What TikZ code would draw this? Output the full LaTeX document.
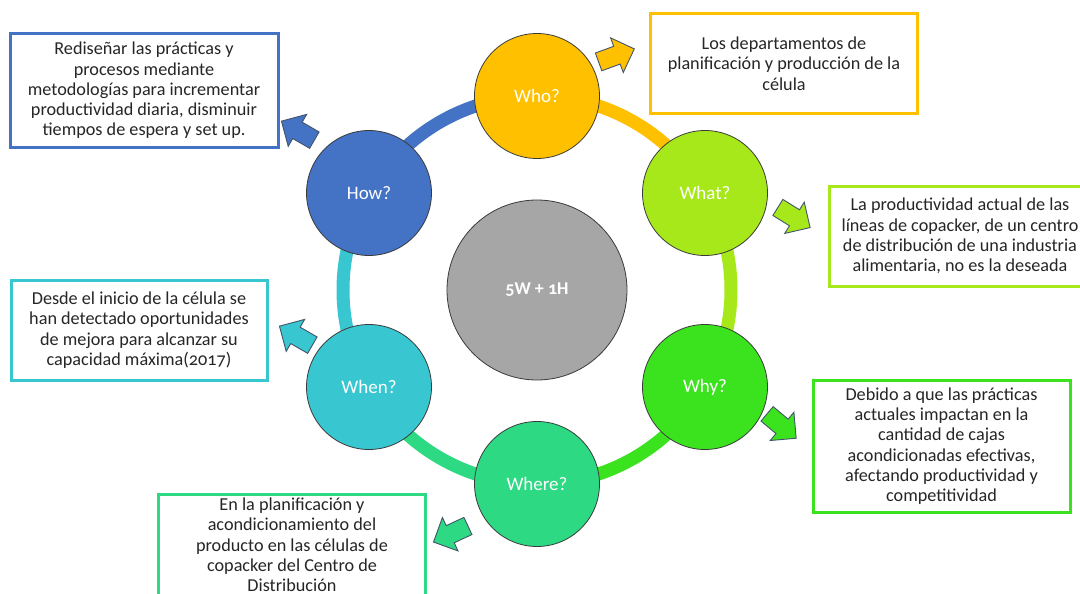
\documentclass[tikz,border=0pt]{standalone}
\usepackage{fontspec}
\setmainfont{Carlito}[Numbers=OldStyle]
\usetikzlibrary{shapes.arrows}
\definecolor{cgold}{HTML}{FFC000}
\definecolor{clime}{HTML}{A6E81A}
\definecolor{cgreen}{HTML}{3BE31E}
\definecolor{cmint}{HTML}{2DD982}
\definecolor{ccyan}{HTML}{38C6D0}
\definecolor{cblue}{HTML}{4472C4}
\definecolor{cgray}{HTML}{A6A6A6}
\definecolor{ctext}{HTML}{262626}
\definecolor{cedge}{HTML}{3A3A3A}
\definecolor{carrow}{HTML}{44546A}
\tikzset{
  ring/.style={line width=13pt},
  stage/.style={circle, draw=cedge, line width=0.8pt, minimum size=125pt, inner sep=0pt,
    text=white, font=\fontsize{19}{22}\selectfont},
  hub/.style={circle, draw=cedge, line width=0.8pt, fill=cgray, minimum size=180pt, inner sep=0pt,
    text=white, font=\fontsize{18}{22}\selectfont\bfseries},
  infobox/.style={rectangle, line width=3pt, fill=white, align=center, inner sep=0pt,
    text=ctext, font=\fontsize{18.2}{20.3}\selectfont},
  blockarrow/.style={single arrow, draw=carrow, line width=0.9pt, minimum height=38pt,
    inner xsep=0pt, inner ysep=9pt, single arrow head extend=9pt},
}
\begin{document}
\begin{tikzpicture}[x=1pt,y=-1pt]
\useasboundingbox (0,0) rectangle (1080,594);
\clip (0,0) rectangle (1080,594);
\fill[white] (0,0) rectangle (1080,594);

% ring
\coordinate (c) at (537,290);
\draw[ring, cgold]  (c) ++(-90:194) arc[start angle=-90, end angle=-30, radius=194];
\draw[ring, clime]  (c) ++(-30:194) arc[start angle=-30, end angle=30, radius=194];
\draw[ring, cgreen] (c) ++(30:194)  arc[start angle=30, end angle=90, radius=194];
\draw[ring, cmint]  (c) ++(90:194)  arc[start angle=90, end angle=150, radius=194];
\draw[ring, ccyan]  (c) ++(150:194) arc[start angle=150, end angle=210, radius=194];
\draw[ring, cblue]  (c) ++(210:194) arc[start angle=210, end angle=270, radius=194];

% circles
\node[hub] (hub) at (c) {5W + 1H};
\node[stage, fill=cgold]  (who)   at (537,96)  {Who?};
\node[stage, fill=clime]  (what)  at (705,193) {What?};
\node[stage, fill=cgreen] (why)   at (705,387) {Why?};
\node[stage, fill=cmint]  (where) at (537,484) {Where?};
\node[stage, fill=ccyan]  (when)  at (369,387) {When?};
\node[stage, fill=cblue]  (how)   at (369,193) {How?};

% arrows
\node[blockarrow, fill=cgold,  rotate=20]  (a1) at (612,57)  {};
\node[blockarrow, fill=clime,  rotate=-32] (a2) at (790,215) {};
\node[blockarrow, fill=cgreen, rotate=-40] (a3) at (778,423) {};
\node[blockarrow, fill=cmint,  rotate=205] (a4) at (455,532) {};
\node[blockarrow, fill=ccyan,  rotate=150] (a5) at (300,338) {};
\node[blockarrow, fill=cblue,  rotate=150] (a6) at (302,133) {};

% boxes
\node[infobox, draw=cgold, minimum width=267pt, minimum height=100pt] (bwho) at (784,63.5)
  {Los departamentos de\\planificación y producción de la\\célula};
\node[infobox, draw=clime, minimum width=262pt, minimum height=100pt] (bwhat) at (960,236)
  {La productividad actual de las\\líneas de copacker, de un centro\\de distribución de una industria\\alimentaria, no es la deseada};
\node[infobox, draw=cgreen, minimum width=257pt, minimum height=132pt] (bwhy) at (941.5,446)
  {Debido a que las prácticas\\actuales impactan en la\\cantidad de cajas\\acondicionadas efectivas,\\afectando productividad y\\competitividad};
\node[infobox, draw=cmint, minimum width=267pt, minimum height=102pt] (bwhere) at (292,545)
  {En la planificación y\\acondicionamiento del\\producto en las células de\\copacker del Centro de\\Distribución};
\node[infobox, draw=ccyan, minimum width=256pt, minimum height=100pt] (bwhen) at (139,330)
  {Desde el inicio de la célula se\\han detectado oportunidades\\de mejora para alcanzar su\\capacidad máxima(2017)};
\node[infobox, draw=cblue, minimum width=268pt, minimum height=113pt] (bhow) at (144,90.5)
  {Rediseñar las prácticas y\\procesos mediante\\metodologías para incrementar\\productividad diaria, disminuir\\tiempos de espera y set up.};
\end{tikzpicture}
\end{document}
